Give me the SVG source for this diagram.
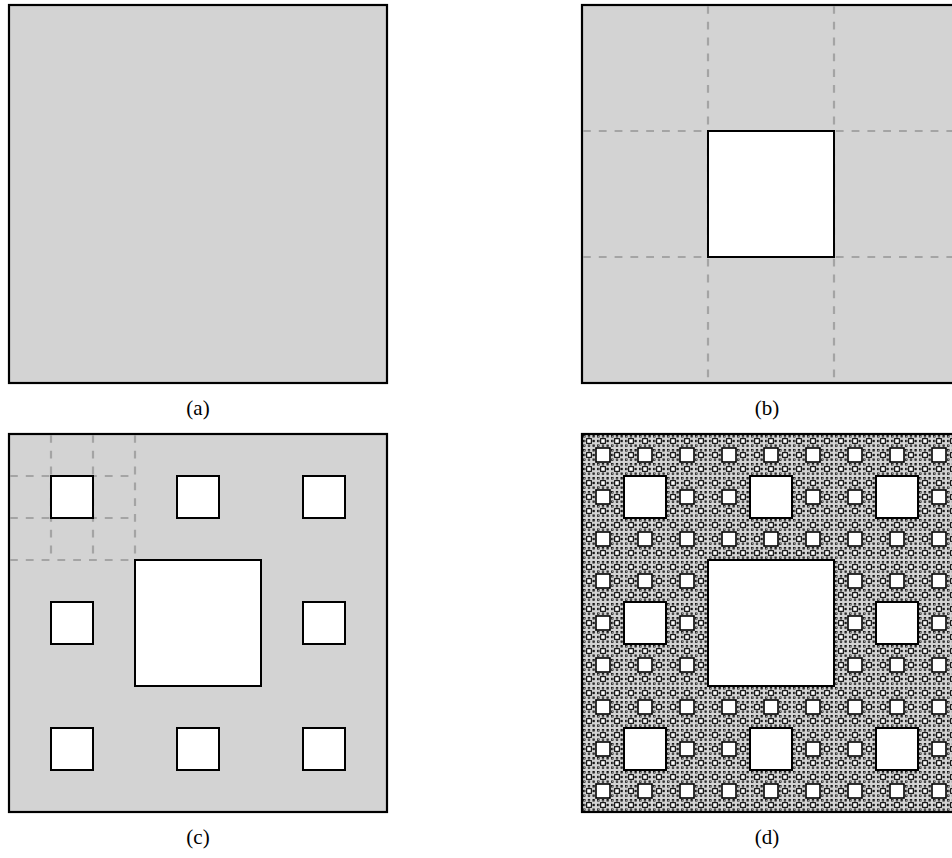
<svg xmlns="http://www.w3.org/2000/svg" width="952" height="858" viewBox="0 0 952 858">
<style>
.panel{fill:#d3d3d3;stroke:#000;stroke-width:2.2}
.hole{fill:#fff;stroke:#000;stroke-width:2}
.h1{fill:#fff;stroke:#000;stroke-width:0.7}
.h2{fill:#fff;stroke:#000;stroke-width:1.1}
.h3{fill:#fff;stroke:#000;stroke-width:1.6}
.dash{stroke:#a4a4a4;stroke-width:2.2;stroke-dasharray:7.8 8;fill:none}
.lbl{font-family:"Liberation Serif","DejaVu Serif",serif;font-size:21px;text-anchor:middle;fill:#000}
</style>
<defs>
<g id="t1"><rect class="h1" x="1.5556" y="1.5556" width="1.5556" height="1.5556"/></g>
<g id="t2">
<use href="#t1" x="0" y="0"/><use href="#t1" x="4.6667" y="0"/><use href="#t1" x="9.3333" y="0"/>
<use href="#t1" x="0" y="4.6667"/><use href="#t1" x="9.3333" y="4.6667"/>
<use href="#t1" x="0" y="9.3333"/><use href="#t1" x="4.6667" y="9.3333"/><use href="#t1" x="9.3333" y="9.3333"/>
<rect class="h2" x="4.6667" y="4.6667" width="4.6667" height="4.6667"/>
</g>
<g id="t3">
<use href="#t2" x="0" y="0"/><use href="#t2" x="14" y="0"/><use href="#t2" x="28" y="0"/>
<use href="#t2" x="0" y="14"/><use href="#t2" x="28" y="14"/>
<use href="#t2" x="0" y="28"/><use href="#t2" x="14" y="28"/><use href="#t2" x="28" y="28"/>
<rect class="h3" x="14" y="14" width="14" height="14"/>
</g>
<g id="t4">
<use href="#t3" x="0" y="0"/><use href="#t3" x="42" y="0"/><use href="#t3" x="84" y="0"/>
<use href="#t3" x="0" y="42"/><use href="#t3" x="84" y="42"/>
<use href="#t3" x="0" y="84"/><use href="#t3" x="42" y="84"/><use href="#t3" x="84" y="84"/>
<rect class="hole" x="42" y="42" width="42" height="42"/>
</g>
</defs>

<g id="panel-a">
<rect class="panel" x="9" y="5" width="378" height="378"/>
</g>
<text class="lbl" x="198" y="415">(a)</text>

<g id="panel-b">
<rect class="panel" x="582" y="5" width="378" height="378"/>
<g class="dash">
<line x1="708" y1="6" x2="708" y2="382"/>
<line x1="834" y1="6" x2="834" y2="382"/>
<line x1="583" y1="131" x2="960" y2="131"/>
<line x1="583" y1="257" x2="960" y2="257"/>
</g>
<rect class="hole" x="708" y="131" width="126" height="126"/>
</g>
<text class="lbl" x="767" y="415">(b)</text>

<g id="panel-c">
<rect class="panel" x="9" y="434" width="378" height="378"/>
<g class="dash">
<line x1="51" y1="435" x2="51" y2="560"/>
<line x1="93" y1="435" x2="93" y2="560"/>
<line x1="135" y1="435" x2="135" y2="560"/>
<line x1="10" y1="476" x2="135" y2="476"/>
<line x1="10" y1="518" x2="135" y2="518"/>
<line x1="10" y1="560" x2="135" y2="560"/>
</g>
<rect class="hole" x="51" y="476" width="42" height="42"/>
<rect class="hole" x="177" y="476" width="42" height="42"/>
<rect class="hole" x="303" y="476" width="42" height="42"/>
<rect class="hole" x="51" y="602" width="42" height="42"/>
<rect class="hole" x="303" y="602" width="42" height="42"/>
<rect class="hole" x="51" y="728" width="42" height="42"/>
<rect class="hole" x="177" y="728" width="42" height="42"/>
<rect class="hole" x="303" y="728" width="42" height="42"/>
<rect class="hole" x="135" y="560" width="126" height="126"/>
</g>
<text class="lbl" x="198" y="844">(c)</text>

<g id="panel-d">
<rect class="panel" x="582" y="434" width="378" height="378"/>
<g transform="translate(582,434)">
<use href="#t4" x="0" y="0"/><use href="#t4" x="126" y="0"/><use href="#t4" x="252" y="0"/>
<use href="#t4" x="0" y="126"/><use href="#t4" x="252" y="126"/>
<use href="#t4" x="0" y="252"/><use href="#t4" x="126" y="252"/><use href="#t4" x="252" y="252"/>
<rect class="hole" x="126" y="126" width="126" height="126"/>
</g>
</g>
<text class="lbl" x="767" y="844">(d)</text>
</svg>
